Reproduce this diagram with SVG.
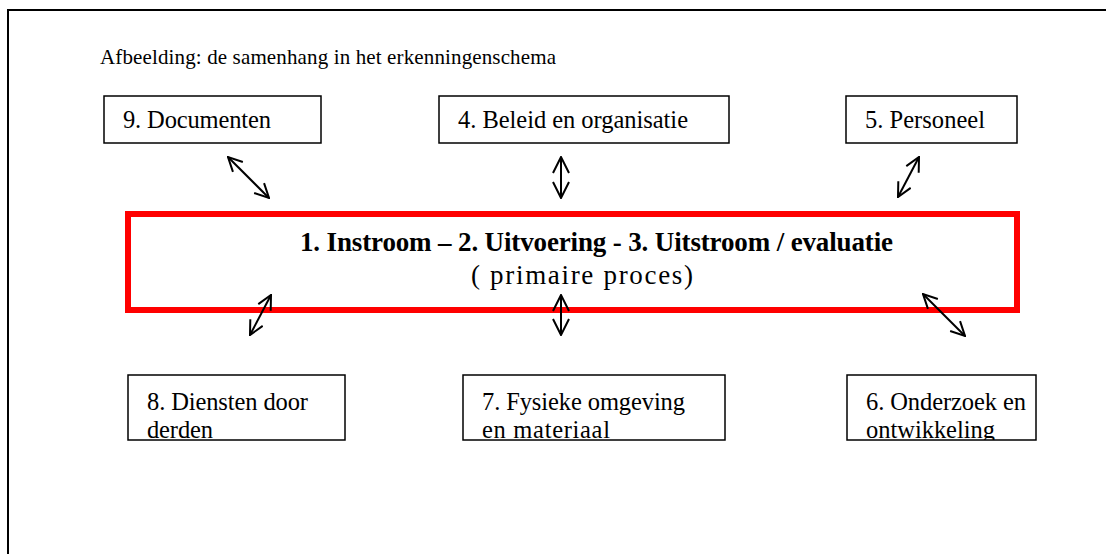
<svg xmlns="http://www.w3.org/2000/svg" width="1106" height="554" viewBox="0 0 1106 554">
<style>
  .box { fill: #fff; stroke: #000; stroke-width: 1.5; }
  .t { font-family: "Liberation Serif", "Times New Roman", serif; font-size: 24.5px; fill: #000; }
  .title { font-family: "Liberation Serif", "Times New Roman", serif; font-size: 27px; fill: #000; }
  .cap { font-family: "Liberation Serif", "Times New Roman", serif; font-size: 21px; fill: #000; }
  .conn { stroke: #000; stroke-width: 2; fill: none; marker-start: url(#ah); marker-end: url(#ah); }
  .connv { stroke: #000; stroke-width: 2; fill: none; marker-start: url(#ahv); marker-end: url(#ahv); }
</style>
<defs>
  <marker id="ah" viewBox="0 0 16 16" refX="15" refY="8" markerWidth="16" markerHeight="16" markerUnits="userSpaceOnUse" orient="auto-start-reverse">
    <path d="M1,1 L15,8 L1,15" fill="none" stroke="#000" stroke-width="2"/>
  </marker>
  <marker id="ahv" viewBox="0 0 18 18" refX="17" refY="9" markerWidth="18" markerHeight="18" markerUnits="userSpaceOnUse" orient="auto-start-reverse">
    <path d="M1,1 L17,9 L1,17" fill="none" stroke="#000" stroke-width="2"/>
  </marker>
  <clipPath id="c8"><rect x="128" y="375" width="217" height="65"/></clipPath>
  <clipPath id="c7"><rect x="463" y="375" width="262" height="65"/></clipPath>
  <clipPath id="c6"><rect x="847" y="375" width="189" height="65"/></clipPath>
</defs>
<rect width="1106" height="554" fill="#fff"/>
<path d="M8,560 L8,10 L1110,10" fill="none" stroke="#000" stroke-width="2"/>
<text class="cap" x="100" y="64" textLength="456">Afbeelding: de samenhang in het erkenningenschema</text>

<g id="n9"><rect class="box" x="104" y="96" width="217" height="47"/><text class="t" x="123" y="128" textLength="148">9. Documenten</text></g>
<g id="n4"><rect class="box" x="439" y="96" width="290" height="47"/><text class="t" x="458" y="128" textLength="230">4. Beleid en organisatie</text></g>
<g id="n5"><rect class="box" x="846" y="96" width="171" height="47"/><text class="t" x="865" y="128" textLength="120">5. Personeel</text></g>

<g id="n1"><rect x="128" y="214" width="889" height="96" fill="none" stroke="#ff0000" stroke-width="6"/>
  <text class="title" x="300" y="251" font-weight="bold" textLength="593">1. Instroom – 2. Uitvoering - 3. Uitstroom / evaluatie</text>
  <text class="title" x="471" y="284" textLength="222">( primaire proces)</text>
</g>

<g id="n8"><rect class="box" x="128" y="375" width="217" height="65"/><g clip-path="url(#c8)"><text class="t" x="147" y="410" textLength="161">8. Diensten door</text><text class="t" x="147" y="438" textLength="66">derden</text></g></g>
<g id="n7"><rect class="box" x="463" y="375" width="262" height="65"/><g clip-path="url(#c7)"><text class="t" x="482" y="410" textLength="203">7. Fysieke omgeving</text><text class="t" x="482" y="438" textLength="128">en materiaal</text></g></g>
<g id="n6"><rect class="box" x="847" y="375" width="189" height="65"/><g clip-path="url(#c6)"><text class="t" x="866" y="410" textLength="160">6. Onderzoek en</text><text class="t" x="866" y="438" textLength="129">ontwikkeling</text></g></g>

<g id="connectors">
  <line class="conn" x1="228" y1="157" x2="269" y2="198"/>
  <line class="connv" x1="561" y1="157" x2="561" y2="198"/>
  <line class="conn" x1="919" y1="157" x2="898" y2="197"/>
  <line class="conn" x1="271" y1="295" x2="250" y2="335"/>
  <line class="connv" x1="561" y1="295" x2="561" y2="335"/>
  <line class="conn" x1="923" y1="294" x2="965" y2="336"/>
</g>
</svg>
